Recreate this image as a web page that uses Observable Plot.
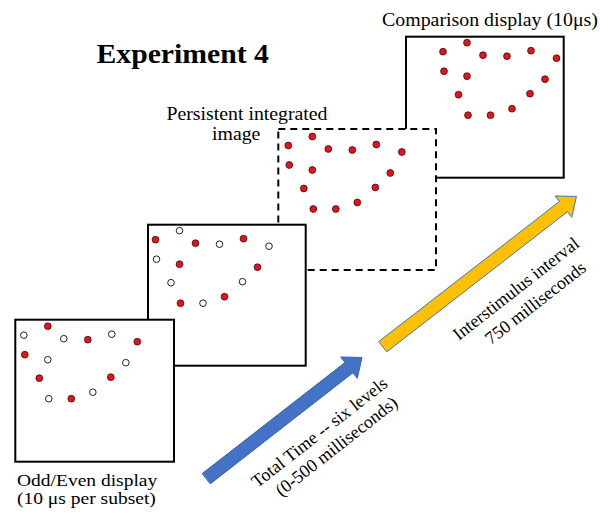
<!DOCTYPE html>
<html>
<head>
<meta charset="utf-8">
<script src="https://cdn.jsdelivr.net/npm/d3@7"></script>
<script src="https://cdn.jsdelivr.net/npm/@observablehq/plot@0.6"></script>
<style>
  body { margin: 0; background: #fff; }
  #chart svg { display: block; }
</style>
</head>
<body>
<div id="chart"></div>
<script>
// ---- Dot pattern (position inside a display, pixels from its top-left) ----
const patternX = [8, 32, 48, 72, 96, 121.5, 9, 32, 110, 23.5, 95, 33, 55.5, 77];
const patternY = [15, 6, 18.5, 19.5, 14, 21.5, 34.5, 39.5, 42.5, 58, 57, 78.5, 78.5, 72];
// which subset each dot belongs to (A = odd, B = even)
const subset = ["B","A","B","A","B","A","A","B","B","A","A","B","A","B"];

// ---- Displays (frames) ----
const frameNames = ["Odd subset", "Even subset", "Persistent integrated image", "Comparison display"];
const frameX1 = [15.3, 148, 278.3, 406];
const frameX2 = [174, 305.7, 436, 563.7];
const frameY1 = [319.7, 224.7, 129, 36.7];
const frameY2 = [461.7, 365.7, 270, 177.7];
const patternShiftX = [0, -1, 1.5, 28.5];
const patternShiftY = [0, -0.5, 1, -0.5];
// which subset is shown red in each display ("all" = every dot)
const frameShows = ["A", "B", "all", "all"];

// ---- Arrows ----
const arrowNames = ["Total Time", "Interstimulus interval"];
const arrowTailX = [206, 382.5];
const arrowTailY = [478, 346];
const arrowTipX = [361.5, 576];
const arrowTipY = [357, 196];

// ---- Texts ----
const labels = ["Comparison display (10μs)", "Persistent integrated", "image", "Odd/Even display", "(10 μs per subset)"];
const labelX = [381.5, 166, 211.5, 16.5, 16.5];
const labelY = [19.8, 114, 133.3, 480.5, 498];
const labelSize = [18.5, 18, 18, 16, 16];
const labelStretch = [1.075, 1.1, 1.1, 1.22, 1.22];

const titleText = ["Experiment 4"];
const titleX = [96];
const titleY = [53.7];
const titleStretch = [1.1];

const arrowLabels = ["Total Time -- six levels", "(0-500 milliseconds)", "Interstimulus interval", "750 milliseconds"];
const arrowLabelX = [319, 336, 515.5, 535];
const arrowLabelY = [432, 446, 288.3, 302.5];

// ---- build tables ----
function arrowPolygon(i) {
  const shaft = 13, headW = 27, headL = 16.5;
  const tx = arrowTailX[i], ty = arrowTailY[i], px = arrowTipX[i], py = arrowTipY[i];
  const L = Math.hypot(px - tx, py - ty);
  const ux = (px - tx) / L, uy = (py - ty) / L;
  const nx = -uy, ny = ux;
  const bx = px - ux * headL, by = py - uy * headL;
  const pts = [
    [tx + nx * shaft / 2, ty + ny * shaft / 2],
    [bx + nx * shaft / 2, by + ny * shaft / 2],
    [bx + nx * headW / 2, by + ny * headW / 2],
    [px, py],
    [bx - nx * headW / 2, by - ny * headW / 2],
    [bx - nx * shaft / 2, by - ny * shaft / 2],
    [tx - nx * shaft / 2, ty - ny * shaft / 2]
  ];
  return pts.map(([x, y]) => ({arrow: arrowNames[i], x, y}));
}

function frameDots(f) {
  return patternX.map((px, i) => ({
    frame: frameNames[f],
    x: frameX1[f] + patternShiftX[f] + px,
    y: frameY1[f] + patternShiftY[f] + patternY[i],
    red: frameShows[f] === "all" || frameShows[f] === subset[i]
  }));
}

const marks = [];
// draw back to front: comparison, persistent, even, odd
for (let f = 3; f >= 0; f--) {
  marks.push(Plot.rect([f], {
    x1: d => frameX1[d], x2: d => frameX2[d], y1: d => frameY1[d], y2: d => frameY2[d],
    fill: "white", stroke: "black", strokeWidth: 2,
    strokeDasharray: f === 2 ? "7,5" : null
  }));
  const dots = frameDots(f);
  marks.push(Plot.dot(dots.filter(d => !d.red), {x: "x", y: "y", r: 3.3, fill: "white", stroke: "#222", strokeWidth: 1}));
  marks.push(Plot.dot(dots.filter(d => d.red), {x: "x", y: "y", r: 3.4, fill: "#e5141c", stroke: "#3a1010", strokeWidth: 0.8}));
}

marks.push(Plot.line(arrowPolygon(0), {x: "x", y: "y", curve: "linear-closed", fill: "#4472C4", stroke: "#3461b0", strokeWidth: 1}));
marks.push(Plot.line(arrowPolygon(1), {x: "x", y: "y", curve: "linear-closed", fill: "#FFC000", stroke: "#4472C4", strokeWidth: 1}));

marks.push(Plot.text(titleText, {
  x: (d, i) => titleX[i], y: (d, i) => titleY[i], text: d => d,
  textAnchor: "start", lineAnchor: "middle",
  fontFamily: "Liberation Serif", fontWeight: "bold", fontSize: 27, fill: "black"
}));
marks.push(Plot.text(labels, {
  x: (d, i) => labelX[i], y: (d, i) => labelY[i], text: d => d,
  fontSize: (d, i) => labelSize[i],
  textAnchor: "start", lineAnchor: "middle",
  fontFamily: "Liberation Serif", fill: "black"
}));
marks.push(Plot.text(arrowLabels, {
  x: (d, i) => arrowLabelX[i], y: (d, i) => arrowLabelY[i], text: d => d,
  rotate: -38, textAnchor: "middle", lineAnchor: "middle",
  fontFamily: "Liberation Serif", fontSize: 18, fill: "black"
}));

const chart = Plot.plot({
  width: 600, height: 516,
  margin: 0,
  x: {domain: [0, 600], range: [0, 600], axis: null},
  y: {domain: [0, 516], range: [0, 516], axis: null},
  style: {background: "white"},
  marks
});

// widen the horizontal (start-anchored) texts a little, about their anchor
function stretchTexts(group, factors) {
  if (!group) return;
  group.querySelectorAll("text").forEach((t, i) => {
    const k = factors[i] ?? 1;
    const tr = t.getAttribute("transform");
    if (tr) {
      t.setAttribute("transform", tr + ` scale(${k},1)`);
    } else {
      const x = +t.getAttribute("x") || 0, y = +t.getAttribute("y") || 0;
      t.setAttribute("transform", `translate(${x},${y}) scale(${k},1) translate(${-x},${-y})`);
    }
  });
}
const textGroups = chart.querySelectorAll('g[aria-label="text"]');
stretchTexts(textGroups[0], titleStretch);
stretchTexts(textGroups[1], labelStretch);

document.getElementById("chart").appendChild(chart);
</script>
</body>
</html>
